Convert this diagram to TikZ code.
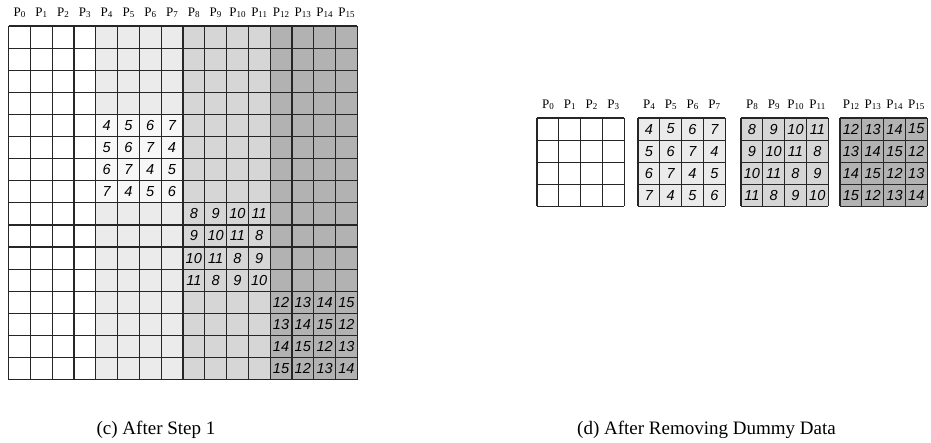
\documentclass[tikz,border=0pt]{standalone}
\usepackage{fontspec}
\setmainfont{Liberation Serif}
\newfontfamily\numfont{Liberation Sans}
\begin{document}
\begin{tikzpicture}[x=1pt,y=-1pt,
  gridline/.style={line width=1.2pt,draw=black!85},
  plabel/.style={inner sep=0pt,font=\fontsize{13}{13}\selectfont},
  numcell/.style={inner sep=0pt,font=\numfont\itshape\fontsize{14.5}{14.5}\selectfont},
  caption/.style={inner sep=0pt,font=\fontsize{19}{21}\selectfont}]
\useasboundingbox[fill=white] (0,0) rectangle (931,442);
\colorlet{shA}{white}
\colorlet{shB}{black!8}
\colorlet{shC}{black!16}
\colorlet{shD}{black!30}
\def\lx{8.5}\def\ly{26}\def\cw{21.8}\def\ch{22.1}
% ---------- left grid (c) ----------
\foreach \c in {0,...,15}{
  \pgfmathtruncatemacro\g{int(\c/4)}
  \ifcase\g \def\col{shA}\or\def\col{shB}\or\def\col{shC}\or\def\col{shD}\fi
  \fill[\col] (\lx+\c*\cw,\ly) rectangle (\lx+\c*\cw+\cw,\ly+16*\ch);
  \pgfmathtruncatemacro\sub{\c}
  \node[plabel] (lp\c) at (\lx+\c*\cw+0.5*\cw,13) {P\raisebox{-0.8pt}{\fontsize{9}{9}\selectfont\sub}};
}
% lighter numbered block in P4-P7
\fill[black!3] (\lx+4*\cw,\ly+4*\ch) rectangle (\lx+8*\cw,\ly+8*\ch);
\foreach \i in {0,...,16}{
  \draw[gridline] (\lx+\i*\cw,\ly) -- (\lx+\i*\cw,\ly+16*\ch);
  \draw[gridline] (\lx,\ly+\i*\ch) -- (\lx+16*\cw,\ly+\i*\ch);
}
\foreach \k in {1,2,3}{
  \foreach \r in {0,...,3}{
    \foreach \c in {0,...,3}{
      \pgfmathtruncatemacro\v{4*\k+mod(\r+\c,4)}
      \node[numcell] (ln\k\r\c) at (\lx+4*\k*\cw+\c*\cw+0.5*\cw,\ly+4*\k*\ch+\r*\ch+0.5*\ch) {\v};
    }
  }
}
\node[caption] (capc) at (156,430) {(c) After Step 1};
% ---------- right grids (d) ----------
\def\ry{118}\def\rw{21.8}\def\rh{22.1}
\foreach \k/\x/\col in {0/537/shA,1/638/shB,2/741/shC,3/840/shD}{
  \fill[\col] (\x,\ry) rectangle (\x+4*\rw,\ry+4*\rh);
  \foreach \i in {0,...,4}{
    \draw[gridline] (\x+\i*\rw,\ry) -- (\x+\i*\rw,\ry+4*\rh);
    \draw[gridline] (\x,\ry+\i*\rh) -- (\x+4*\rw,\ry+\i*\rh);
  }
  \foreach \c in {0,...,3}{
    \pgfmathtruncatemacro\sub{4*\k+\c}
    \node[plabel] (rp\k\c) at (\x+\c*\rw+0.5*\rw,105) {P\raisebox{-0.8pt}{\fontsize{9}{9}\selectfont\sub}};
  }
  \ifnum\k>0
  \foreach \r in {0,...,3}{
    \foreach \c in {0,...,3}{
      \pgfmathtruncatemacro\v{4*\k+mod(\r+\c,4)}
      \node[numcell] (rn\k\r\c) at (\x+\c*\rw+0.5*\rw,\ry+\r*\rh+0.5*\rh) {\v};
    }
  }
  \fi
}
\node[caption] (capd) at (706.5,430) {(d) After Removing Dummy Data};
\end{tikzpicture}
\end{document}
